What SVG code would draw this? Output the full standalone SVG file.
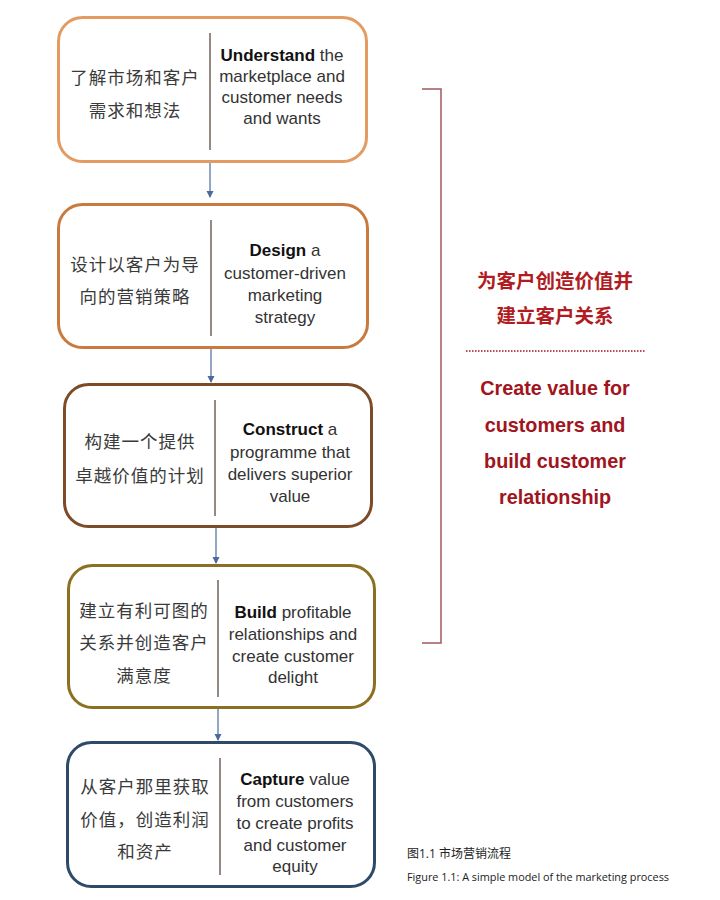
<svg xmlns="http://www.w3.org/2000/svg" width="720" height="900" viewBox="0 0 720 900">
<style>
.box{fill:#ffffff;stroke-width:3}
.div{stroke:#5a4a40;stroke-width:1.3}
.zh{font-family:"Noto Sans CJK SC","Noto Sans",sans-serif;font-size:17.5px;letter-spacing:1px;fill:#3a3a3a;text-anchor:middle}
.en{font-family:"Liberation Sans",Arial,sans-serif;font-size:17px;fill:#333333;text-anchor:middle}
.b{font-weight:bold;fill:#111}
.conn{stroke:#4a6a9a;stroke-width:1.2;fill:none;marker-end:url(#ah)}
.rzh{font-family:"Noto Sans CJK SC",sans-serif;font-size:19.5px;font-weight:bold;fill:#b01c22;text-anchor:middle}
.ren{font-family:"Liberation Sans",Arial,sans-serif;font-size:19.8px;font-weight:bold;fill:#a01520;text-anchor:middle}
.cap{font-family:"Open Sans","Liberation Sans","Noto Sans CJK SC",sans-serif;fill:#222}
</style>
<defs>
<marker id="ah" markerWidth="8" markerHeight="8" refX="6" refY="4" orient="auto" markerUnits="userSpaceOnUse">
<path d="M0,0.5 L7,4 L0,7.5 Z" fill="#4a6a9a"/>
</marker>
</defs>
<rect width="720" height="900" fill="#ffffff"/>

<g id="connectors">
<line class="conn" x1="210" y1="163" x2="210" y2="197"/>
<line class="conn" x1="211" y1="349" x2="211" y2="382"/>
<line class="conn" x1="216" y1="528" x2="216" y2="563"/>
<line class="conn" x1="218" y1="709" x2="218" y2="740"/>
</g>

<g id="n1">
<rect class="box" x="58.5" y="17.5" width="308" height="144" rx="24" stroke="#e39b62"/>
<line class="div" x1="210" y1="33" x2="210" y2="150"/>
<text class="zh" x="135" y="84">了解市场和客户</text>
<text class="zh" x="135" y="117">需求和想法</text>
<text class="en" x="282" y="61"><tspan class="b">Understand</tspan> the</text>
<text class="en" x="282" y="82">marketplace and</text>
<text class="en" x="282" y="103">customer needs</text>
<text class="en" x="282" y="124">and wants</text>
</g>

<g id="n2">
<rect class="box" x="58.5" y="204.5" width="309" height="143" rx="24" stroke="#c97a3e"/>
<line class="div" x1="211" y1="220" x2="211" y2="336"/>
<text class="zh" x="135" y="271">设计以客户为导</text>
<text class="zh" x="135" y="303">向的营销策略</text>
<text class="en" x="285" y="256"><tspan class="b">Design</tspan> a</text>
<text class="en" x="285" y="279">customer-driven</text>
<text class="en" x="285" y="301">marketing</text>
<text class="en" x="285" y="323">strategy</text>
</g>

<g id="n3">
<rect class="box" x="64.5" y="384.5" width="307" height="142" rx="24" stroke="#7c4b27"/>
<line class="div" x1="215" y1="400" x2="215" y2="516"/>
<text class="zh" x="140" y="448">构建一个提供</text>
<text class="zh" x="140" y="482">卓越价值的计划</text>
<text class="en" x="290" y="435"><tspan class="b">Construct</tspan> a</text>
<text class="en" x="290" y="458">programme that</text>
<text class="en" x="290" y="480">delivers superior</text>
<text class="en" x="290" y="502">value</text>
</g>

<g id="n4">
<rect class="box" x="68.5" y="565.5" width="306" height="142" rx="24" stroke="#8c7022"/>
<line class="div" x1="218" y1="580" x2="218" y2="697"/>
<text class="zh" x="144" y="617">建立有利可图的</text>
<text class="zh" x="144" y="649">关系并创造客户</text>
<text class="zh" x="144" y="682">满意度</text>
<text class="en" x="293" y="618"><tspan class="b">Build</tspan> profitable</text>
<text class="en" x="293" y="640">relationships and</text>
<text class="en" x="293" y="662">create customer</text>
<text class="en" x="293" y="683">delight</text>
</g>

<g id="n5">
<rect class="box" x="67.5" y="742.5" width="307" height="144" rx="24" stroke="#2f4a68"/>
<line class="div" x1="220" y1="758" x2="220" y2="875"/>
<text class="zh" x="145" y="793">从客户那里获取</text>
<text class="zh" x="145" y="826">价值，创造利润</text>
<text class="zh" x="145" y="858">和资产</text>
<text class="en" x="295" y="785"><tspan class="b">Capture</tspan> value</text>
<text class="en" x="295" y="807">from customers</text>
<text class="en" x="295" y="829">to create profits</text>
<text class="en" x="295" y="851">and customer</text>
<text class="en" x="295" y="872">equity</text>
</g>

<g id="bracket">
<path d="M422,89 L441,89 L441,643 L422,643" fill="none" stroke="#a0585e" stroke-width="1.5"/>
</g>

<g id="summary">
<text class="rzh" x="555" y="288">为客户创造价值并</text>
<text class="rzh" x="555" y="323">建立客户关系</text>
<line x1="466" y1="351" x2="645" y2="351" stroke="#a01520" stroke-width="1.5" stroke-dasharray="1.5,1.5"/>
<text class="ren" x="555" y="395">Create value for</text>
<text class="ren" x="555" y="432">customers and</text>
<text class="ren" x="555" y="468">build customer</text>
<text class="ren" x="555" y="504">relationship</text>
</g>

<g id="caption">
<text class="cap" x="407" y="858" font-size="12">图1.1 市场营销流程</text>
<text class="cap" x="407" y="881" font-size="11" textLength="262" lengthAdjust="spacingAndGlyphs">Figure 1.1: A simple model of the marketing process</text>
</g>
</svg>
